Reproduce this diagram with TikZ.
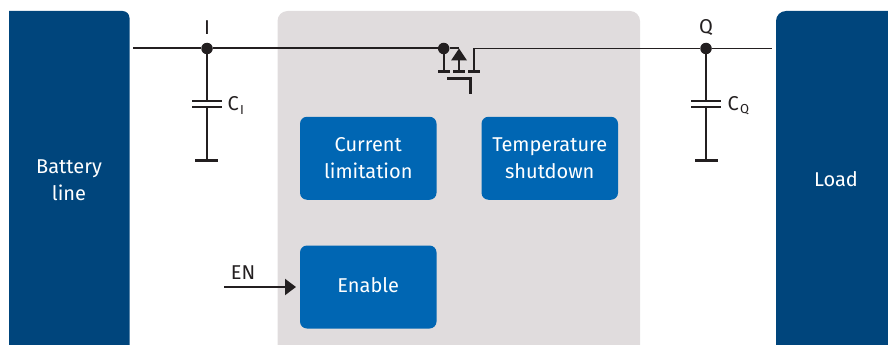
\documentclass[tikz,border=0pt]{standalone}
\usepackage{fontspec}
\setmainfont{Fira Sans}[Scale=1]
\usetikzlibrary{arrows.meta}
\definecolor{barblue}{HTML}{00457C}
\definecolor{boxblue}{HTML}{0066B3}
\definecolor{chipgrey}{HTML}{E0DCDD}
\definecolor{ink}{HTML}{231F20}
\tikzset{
  funcbox/.style={draw=none,fill=boxblue,rounded corners=7pt,minimum width=136.5pt,minimum height=83pt,inner sep=0pt,align=center,text=white,font=\fontsize{20}{27}\selectfont},
  bartext/.style={text=white,align=center,inner sep=0pt,font=\fontsize{20}{27}\selectfont},
  lbl/.style={text=ink,inner sep=0pt,font=\fontsize{20}{22}\selectfont},
  wire/.style={draw=ink,line width=2pt},
  thinwire/.style={draw=ink,line width=1.5pt},
  plate/.style={draw=ink,line width=3pt},
  capplate/.style={draw=ink,line width=2pt},
  junction/.style={circle,fill=ink,minimum size=11.5pt,inner sep=0pt},
  subs/.style={font=\fontsize{13}{14}\selectfont}
}
\begin{document}
\begin{tikzpicture}[x=1pt,y=-1pt]
\useasboundingbox (0,0) rectangle (888,345);
\fill[barblue] (9,345) -- (9,11) [rounded corners=7pt] -- (129.5,11) [sharp corners] -- (129.5,345) -- cycle;
\fill[barblue] (888,345) -- (888,11) [rounded corners=10pt] -- (776,11) [sharp corners] -- (776,345) -- cycle;
\fill[chipgrey] (277.5,345) [rounded corners=10pt] -- (277.5,11) -- (640,11) [sharp corners] -- (640,345) -- cycle;
\node[bartext] (battery) at (69,180.5) {Battery\\line};
\node[bartext] (load) at (836,179) {Load};
\node[funcbox] (current) at (368.25,158.25) {Current\\limitation};
\node[funcbox] (temp) at (549.75,158.25) {Temperature\\shutdown};
\node[funcbox,text height=0pt] (enable) at (368.25,287) {};
\node[text=white,inner sep=0pt,font=\fontsize{20}{27}\selectfont] (enabletext) at (368.25,285) {Enable};

% junctions and free ends
\coordinate (inL) at (133,48.5);
\coordinate (qR) at (772,48.5);
\node[junction] (jI) at (207,48.5) {};
\node[junction] (jS) at (443.7,48.5) {};
\node[junction] (jQ) at (706,48.5) {};
\coordinate (srcEnd) at (459,48.5);
\coordinate (drainTop) at (474,48.5);
\coordinate (drainBot) at (474,71.5);
\coordinate (srcBot) at (443.7,71.5);
\coordinate (bodyBot) at (459,71.5);
\coordinate (bodyBase) at (459,60);
\coordinate (gateL) at (447,78.5);
\coordinate (gateC) at (470.5,78.5);
\coordinate (gateB) at (470.5,94);

% top rail
\draw[wire] (inL) -- (jI) -- (jS) -- (srcEnd);
\draw[thinwire] (drainBot) -- (drainTop) -- (jQ) -- (qR);

% MOSFET
\draw[wire] (jS) -- (srcBot);
\draw[wire] (bodyBase) -- (bodyBot);
\fill[ink] (srcEnd) -- (467,60.5) -- (451,60.5) -- cycle;
\draw[plate] (438,71.5) -- (450,71.5);
\draw[plate] (453,71.5) -- (465,71.5);
\draw[plate] (468,71.5) -- (480,71.5);
\draw[wire,line width=2.5pt] (gateL) -- (gateC) -- (gateB);

% capacitor I
\coordinate (cIa) at (207,101);
\coordinate (cIb) at (207,107);
\coordinate (gI) at (207,160);
\draw[wire] (jI) -- (cIa);
\draw[wire] (cIb) -- (gI);
\draw[capplate] (192,101) -- (222,101);
\draw[capplate] (192,107) -- (222,107);
\draw[plate] (195,160) -- (218,160);

% capacitor Q
\coordinate (cQa) at (706,101);
\coordinate (cQb) at (706,107);
\coordinate (gQ) at (706,160);
\draw[wire] (jQ) -- (cQa);
\draw[wire] (cQb) -- (gQ);
\draw[capplate] (691,101) -- (721,101);
\draw[capplate] (691,107) -- (721,107);
\draw[plate] (695,160) -- (718,160);

% EN arrow
\coordinate (enStart) at (224,287);
\draw[wire,-{Triangle[length=11pt,width=16pt]}] (enStart) -- (enable.west -| 296,287);

% labels
\node[lbl] (lI) at (207,27.5) {I};
\node[lbl] (lQ) at (706,28) {Q};
\node[lbl] (lEN) at (243,273) {EN};
\node[lbl,anchor=west] (lCI) at (227.5,104) {C};
\node[lbl,subs,anchor=west] (lCIs) at (240,110) {I};
\node[lbl,anchor=west] (lCQ) at (727.5,104) {C};
\node[lbl,subs,anchor=west] (lCQs) at (740,110) {Q};
\end{tikzpicture}
\end{document}
